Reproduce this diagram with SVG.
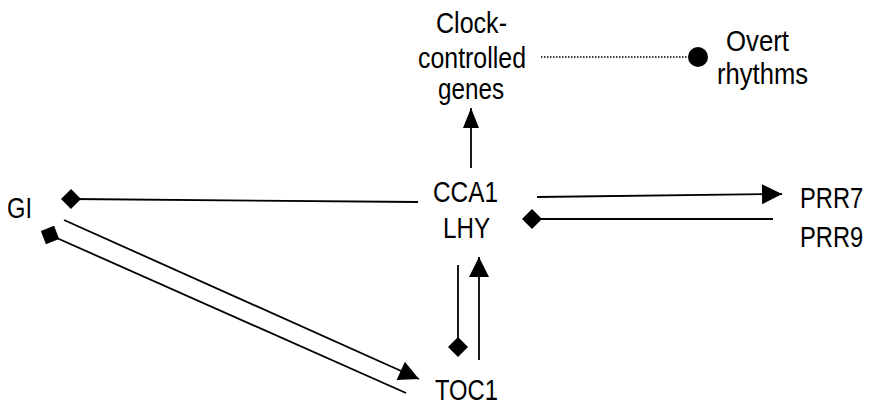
<svg xmlns="http://www.w3.org/2000/svg" width="872" height="406" viewBox="0 0 872 406">
  <style>
    text { font-family: "Liberation Sans", Arial, sans-serif; font-size: 30px; fill: #000; }
    .edge { stroke: #000; stroke-width: 1.8; fill: none; }
    .dotted { stroke: #000; stroke-width: 1.6; stroke-dasharray: 1.5 1.5; fill: none; }
  </style>
  <defs>
    <!-- activation: filled triangle -->
    <marker id="arrow" markerUnits="userSpaceOnUse" markerWidth="20" markerHeight="20" refX="20" refY="10" orient="auto" overflow="visible">
      <path d="M0,0 L20,10 L0,20 Z" fill="#000"/>
    </marker>
    <marker id="arrowSm" markerUnits="userSpaceOnUse" markerWidth="20" markerHeight="16" refX="20" refY="8" orient="auto" overflow="visible">
      <path d="M0,0 L20,8 L0,16 Z" fill="#000"/>
    </marker>
    <!-- repression: filled diamond -->
    <marker id="diamond" markerUnits="userSpaceOnUse" markerWidth="20" markerHeight="20" refX="10" refY="10" orient="auto" overflow="visible">
      <path d="M0,10 L10,0 L20,10 L10,20 Z" fill="#000"/>
    </marker>
    <!-- output: filled dot -->
    <marker id="dot" markerUnits="userSpaceOnUse" markerWidth="20" markerHeight="20" refX="0" refY="10" orient="auto" overflow="visible">
      <circle cx="10" cy="10" r="10" fill="#000"/>
    </marker>
  </defs>

  <g id="connectors">
    <!-- CCA1/LHY to clock-controlled genes -->
    <path class="edge" d="M471,168 L471,108" marker-end="url(#arrowSm)"/>
    <!-- genes to overt rhythms -->
    <path class="dotted" d="M541,57 L688,57" marker-end="url(#dot)"/>
    <!-- CCA1/LHY activates PRR7/PRR9 -->
    <path class="edge" d="M537,197 L782,194" marker-end="url(#arrow)"/>
    <!-- PRR7/PRR9 represses CCA1/LHY -->
    <path class="edge" d="M773,219 L532,219" marker-end="url(#diamond)"/>
    <!-- CCA1/LHY represses GI -->
    <path class="edge" d="M418,202 L71,199" marker-end="url(#diamond)"/>
    <!-- GI activates TOC1 -->
    <path class="edge" d="M64,220 L419,379" marker-end="url(#arrow)"/>
    <!-- TOC1 represses GI -->
    <path class="edge" d="M406,393 L50,235" marker-end="url(#diamond)"/>
    <!-- CCA1/LHY represses TOC1 -->
    <path class="edge" d="M458,265 L458,347" marker-end="url(#diamond)"/>
    <!-- TOC1 activates CCA1/LHY -->
    <path class="edge" d="M479,360 L479,257" marker-end="url(#arrow)"/>
  </g>

  <g id="clock-controlled-genes">
    <text x="436" y="33" textLength="71" lengthAdjust="spacingAndGlyphs">Clock-</text>
    <text x="418" y="68" textLength="108" lengthAdjust="spacingAndGlyphs">controlled</text>
    <text x="438" y="99" textLength="66" lengthAdjust="spacingAndGlyphs">genes</text>
  </g>
  <g id="overt-rhythms">
    <text x="726" y="51" textLength="63" lengthAdjust="spacingAndGlyphs">Overt</text>
    <text x="717" y="84" textLength="91" lengthAdjust="spacingAndGlyphs">rhythms</text>
  </g>
  <g id="cca1-lhy">
    <text x="433" y="202" textLength="65" lengthAdjust="spacingAndGlyphs">CCA1</text>
    <text x="443" y="238" textLength="47" lengthAdjust="spacingAndGlyphs">LHY</text>
  </g>
  <g id="prr7-prr9">
    <!-- narrowed with a horizontal scale so the labels fit the right margin -->
    <text transform="translate(800,208) scale(0.79,1)">PRR7</text>
    <text transform="translate(800,247) scale(0.79,1)">PRR9</text>
  </g>
  <g id="gi">
    <text x="7" y="218" textLength="25" lengthAdjust="spacingAndGlyphs">GI</text>
  </g>
  <g id="toc1">
    <text x="435" y="400" textLength="63" lengthAdjust="spacingAndGlyphs">TOC1</text>
  </g>
</svg>
